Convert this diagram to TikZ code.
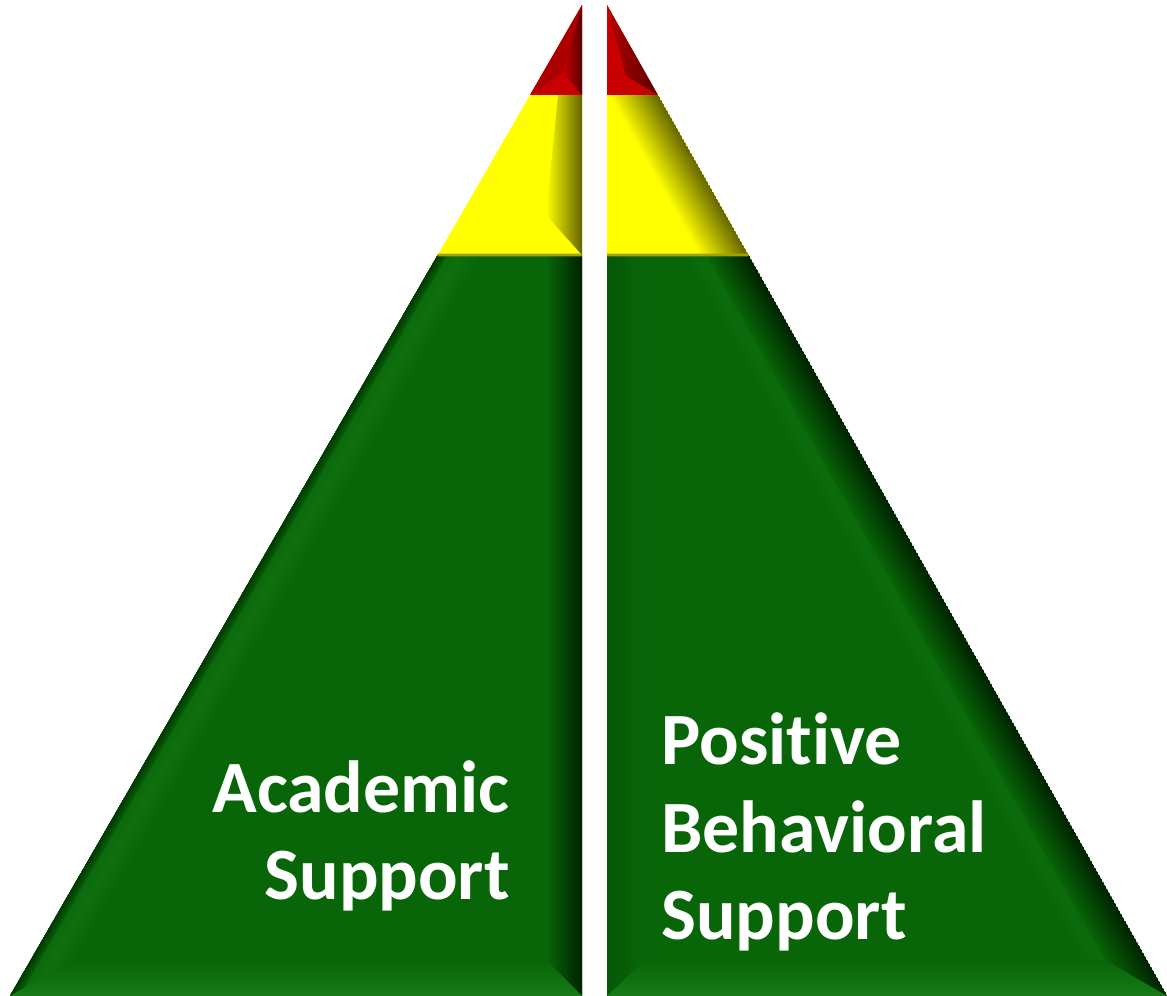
\documentclass[tikz,border=0pt]{standalone}
\usepackage{fontspec}
\setmainfont{Carlito}[Ligatures=NoCommon]
\usetikzlibrary{calc}
\definecolor{gbase}{RGB}{8,102,8}
\definecolor{gdark}{RGB}{0,34,0}
\definecolor{glight}{RGB}{30,130,30}
\definecolor{ybase}{RGB}{255,255,0}
\definecolor{ydark}{RGB}{100,100,0}
\definecolor{rbase}{RGB}{200,0,0}
\definecolor{rdark}{RGB}{90,0,0}

\begin{document}
\begin{tikzpicture}[x=0.02cm,y=0.02cm,
    lbl/.style={text=white,font=\fontsize{42}{50}\selectfont\bfseries,inner sep=0pt}]
  \useasboundingbox (0,0) rectangle (1167,996);
  % left pyramid
  \coordinate (LA) at (582,991);
  \coordinate (LB) at (10,0);
  \coordinate (LC) at (582,0);
  \coordinate (L1) at ($(LA)!0.0908!(LB)$);
  \coordinate (L2) at ($(LA)!0.2523!(LB)$);
  % right pyramid
  \coordinate (RA) at (607,991);
  \coordinate (RB) at (1167,0);
  \coordinate (RC) at (607,0);
  \coordinate (R1) at ($(RA)!0.0908!(RB)$);
  \coordinate (R2) at ($(RA)!0.2523!(RB)$);

  % green
  \fill[gbase] (LB) -- (LC) -- (582,741) -- (L2) -- cycle;
  \fill[gbase] (RC) -- (RB) -- (R2) -- (607,741) -- cycle;
  \begin{scope}
    \clip (LB) -- (LC) -- (582,741) -- (L2) -- cycle;
    \foreach \k in {13,...,0}{
      \pgfmathtruncatemacro{\p}{max(0,35-1.8*abs(3*\k-18))}
      \fill[glight!\p!gbase,shift={(LB)},rotate=60] (0,0) rectangle (1200,-3*\k-3);
    }
    \foreach \k in {3,...,0}{
      \pgfmathtruncatemacro{\p}{65-15*\k}
      \fill[gdark!\p!gbase,shift={(LB)},rotate=60] (0,0) rectangle (1200,-2*\k-2);
    }
  \end{scope}
  \begin{scope}
    \clip (RC) -- (RB) -- (R2) -- (607,741) -- cycle;
    \foreach \k in {19,...,0}{
      \pgfmathtruncatemacro{\p}{max(0,22-1.4*abs(3*\k-40))}
      \fill[glight!\p!gbase,shift={(RA)},rotate=-60.53] (0,0) rectangle (1200,-3*\k-3);
    }
    \foreach \k in {11,...,0}{
      \pgfmathtruncatemacro{\p}{95-8*\k}
      \fill[gdark!\p!gbase,shift={(RA)},rotate=-60.53] (0,0) rectangle (1200,-3*\k-3);
    }
  \end{scope}
  \shade[left color=gbase,right color=gdark] (546,36) -- (582,0) -- (582,741) -- (546,741) -- cycle;
  \shade[left color=gbase!85!black,middle color=glight,right color=gbase] (607,0) -- (645,36) -- (645,741) -- (607,741) -- cycle;
  \shade[top color=gbase,middle color=glight,bottom color=glight!70!gbase] (LB) -- (LC) -- (546,36) -- (72,36) -- cycle;
  \shade[top color=gbase,middle color=glight,bottom color=glight!70!gbase] (RC) -- (RB) -- (1105,36) -- (645,36) -- cycle;

  % yellow
  \fill[ybase] (L2) -- (582,741) -- (582,901) -- (L1) -- cycle;
  \fill[ybase] (607,741) -- (R2) -- (R1) -- (607,901) -- cycle;
  \shade[left color=ybase,right color=ydark] (546,781) -- (582,741) -- (582,901) -- (558,901) -- cycle;
  \begin{scope}
    \clip (607,741) -- (R2) -- (R1) -- (607,901) -- cycle;
    \foreach \k in {13,...,0}{
      \pgfmathtruncatemacro{\p}{95-7*\k}
      \fill[ydark!\p!ybase,shift={(RA)},rotate=-60.53] (0,0) rectangle (1200,-3*\k-3);
    }
  \end{scope}
  \draw[ydark!60!ybase,line width=1.5pt] (L2) -- (582,741) (607,741) -- (R2);

  % red
  \fill[rbase] (LA) -- (L1) -- (582,901) -- cycle;
  \shade[left color=rbase,right color=rdark] (LA) -- (563,924) -- (582,901) -- cycle;
  \fill[rbase!85!black] (LA) -- (L1) -- (563,924) -- cycle;
  \fill[rbase] (RA) -- (607,901) -- (R1) -- cycle;
  \shade[left color=rbase!80!rdark,right color=rdark] (RA) -- (R1) -- (626,920) -- cycle;

  % labels
  \node[lbl,anchor=base east,align=right] (acad) at (510,96) {Academic\\Support};
  \node[lbl,anchor=base west,align=left] (pbs) at (661,56) {Positive\\Behavioral\\Support};
\end{tikzpicture}
\end{document}
